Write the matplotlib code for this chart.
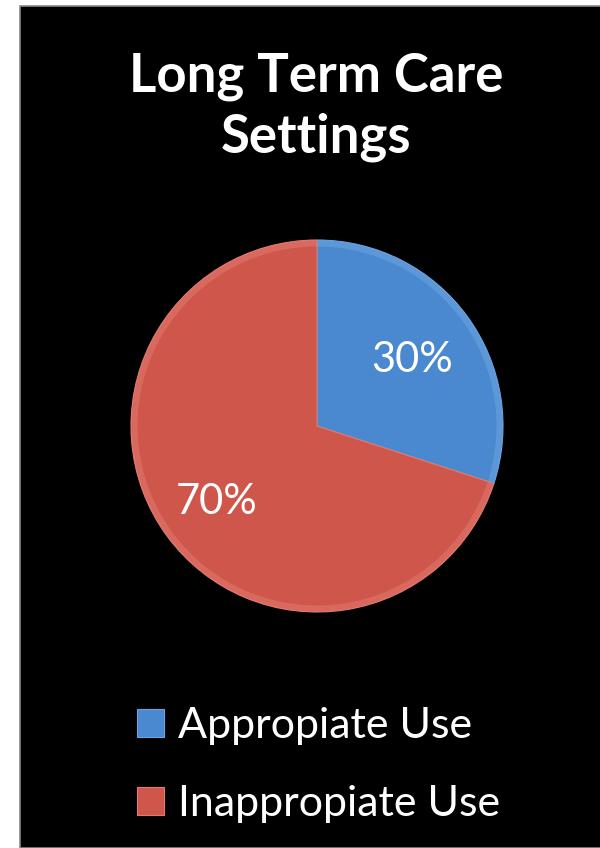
import matplotlib.pyplot as plt
from matplotlib.patches import Rectangle

# 长期护理机构中的使用情况
labels = ['Appropiate Use', 'Inappropiate Use']
shares = [30, 70]
colors = ['#4A89CF', '#CF564B']
rim_colors = ['#6BA3E0', '#E27A70']
title = 'Long Term Care\nSettings'

W, H = 600, 848
fig = plt.figure(figsize=(W / 100, H / 100), dpi=100, facecolor='white')
plt.rcParams['font.family'] = ['Lato', 'DejaVu Sans']

# 黑色背景板
fig.patches.append(Rectangle((20 / W, 0), 1, 1 - 6 / H, transform=fig.transFigure,
                             facecolor='black', edgecolor='#888888', linewidth=1.2, zorder=-10))

fig.text(316 / W, 1 - 107 / H, title, color='white', fontsize=38, fontweight='bold',
         ha='center', va='center', linespacing=1.3)

# 饼图
r, cx, cy = 186, 317, 426
ax = fig.add_axes([(cx - r) / W, (H - cy - r) / H, 2 * r / W, 2 * r / H])
wedges, texts = ax.pie(shares, colors=colors, startangle=90, counterclock=False,
                       radius=1, wedgeprops=dict(edgecolor=rim_colors[1], linewidth=0.0))
# 边缘的浅色斜面
ax.pie(shares, colors=rim_colors, startangle=90, counterclock=False, radius=1,
       wedgeprops=dict(width=0.035, linewidth=0, alpha=0.55))
for w, c in zip(wedges, rim_colors):
    w.set_edgecolor(c)
    w.set_linewidth(0.8)
ax.set_xlim(-1, 1)
ax.set_ylim(-1, 1)
ax.set_aspect('equal')
ax.axis('off')

ax.text(0.51, 0.355, f'{shares[0]}%', color='white', fontsize=30, ha='center', va='center')
ax.text(-0.54, -0.41, f'{shares[1]}%', color='white', fontsize=30, ha='center', va='center')

fig.legend(wedges, labels, loc='upper left', bbox_to_anchor=(137 / W, 1 - 707 / H),
           frameon=False, fontsize=31, labelcolor='white', handlelength=0.63,
           handleheight=0.63, handletextpad=0.33, labelspacing=0.93,
           borderpad=0, borderaxespad=0)

fig.savefig('out.png', dpi=100, facecolor=fig.get_facecolor())
